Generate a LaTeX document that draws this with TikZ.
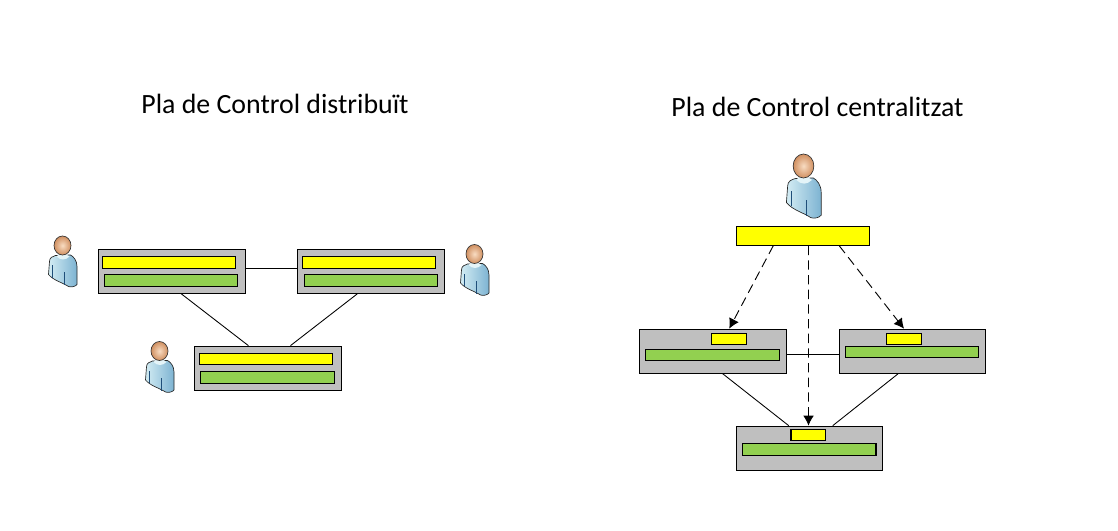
\documentclass[tikz,border=0pt]{standalone}
\usepackage{fontspec}
\setmainfont{Carlito}
\usetikzlibrary{arrows.meta,positioning}
\definecolor{BoxGray}{HTML}{BFBFBF}
\definecolor{CtrlYellow}{HTML}{FFFF00}
\definecolor{DataGreen}{HTML}{92D050}
\definecolor{SkinA}{HTML}{F8DCC2}
\definecolor{SkinB}{HTML}{D08F60}
\definecolor{ShirtA}{HTML}{D3ECF3}
\definecolor{ShirtB}{HTML}{7DB3D2}
\definecolor{ShirtLine}{HTML}{1F4E79}
\tikzset{
  swbox/.style={draw,fill=BoxGray,line width=0.8pt,inner sep=0pt,minimum width=110.4pt,minimum height=33pt},
  swnarrow/.style={swbox,minimum width=109.6pt},
  ctrlbar/.style={draw,fill=CtrlYellow,line width=0.8pt,inner sep=0pt,minimum width=100pt,minimum height=8.6pt},
  ctrlsmall/.style={ctrlbar,minimum width=26pt},
  ctrlbig/.style={ctrlbar,minimum height=14.2pt},
  databar/.style={draw,fill=DataGreen,line width=0.8pt,inner sep=0pt,minimum width=100pt,minimum height=8.6pt},
  link/.style={line width=0.65pt},
  ctrllink/.style={line width=0.7pt,dash pattern=on 7pt off 4pt,-{Latex[length=7.5pt,width=8pt]}},
  title/.style={font=\fontsize{20.9}{23}\selectfont},
  person/.pic={
    \shade[left color=ShirtA,right color=ShirtB,draw=black!85,line width=0.5pt]
      (-7,10) .. controls (-10,11) and (-13,12) .. (-13,16) -- (-14,29)
      .. controls (-9,35) and (0,37) .. (6,41) .. controls (9,42) and (13,41) .. (14.5,39)
      -- (14.5,21) .. controls (14.5,15) and (11,11) .. (8,9.5) -- cycle;
    \fill[ShirtA!60!white] (-6,11) .. controls (-2,15) and (3,15) .. (7,11) -- (2,8) -- (-3,8) -- cycle;
    \draw[ShirtLine,line width=0.45pt] (-9.8,20) -- (-9.8,32);
    \draw[ShirtLine,line width=0.45pt] (2.2,27) -- (2.2,39.5);
    \shade[inner color=SkinA,outer color=SkinB,draw=black!80,line width=0.5pt]
      (0,0) ellipse [x radius=8.5,y radius=9.5];
  }
}
\begin{document}
\begin{tikzpicture}[x=0.75pt,y=-0.75pt]
  \useasboundingbox (0,0) rectangle (1118,531);
  \node[title] (titledist) at (275,104) {Pla de Control distribuït};
  \node[title] (titlecent) at (817.5,107) {Pla de Control centralitzat};

  % distribuit
  \node[swbox] (swa) at (171.7,271.2) {};
  \node[swbox] (swb) at (370.9,271.2) {};
  \node[swbox] (swc) at (267.9,368.2) {};
  \node[ctrlbar] (ctrla) at (169.2,262.7) {};
  \node[databar] (dataa) at (171.2,280.7) {};
  \node[ctrlbar] (ctrlb) at (368.9,262.7) {};
  \node[databar] (datab) at (370.9,280.7) {};
  \node[ctrlbar] (ctrlc) at (265.9,359.2) {};
  \node[databar] (datac) at (267.4,377.4) {};
  \draw[link] ([yshift=2.2pt]swa.east) -- ([yshift=2.2pt]swb.west);
  \draw[link] ([xshift=7.1pt]swa.south) -- ([xshift=-14.6pt]swc.north);
  \draw[link] ([xshift=-10.1pt]swb.south) -- ([xshift=16.9pt]swc.north);
  \pic at (62.5,245.5) {person};
  \pic at (474.5,254) {person};
  \pic at (159.5,351) {person};

  % centralitzat
  \node[ctrlbig] (master) at (802.9,235.7) {};
  \node[swbox] (swd) at (712.7,351.2) {};
  \node[swnarrow] (swe) at (912.4,351.2) {};
  \node[swnarrow] (swf) at (809.4,448.2) {};
  \node[ctrlsmall] (ctrld) at (729,339) {};
  \node[databar] (datad) at (712.4,355.2) {};
  \node[ctrlsmall] (ctrle) at (904,339) {};
  \node[databar] (datae) at (911.9,352.2) {};
  \node[ctrlsmall] (ctrlf) at (808.3,435) {};
  \node[databar] (dataf) at (809.3,449.5) {};
  \draw[link] ([yshift=-2.2pt]swd.east) -- ([yshift=-2.2pt]swe.west);
  \draw[link] ([xshift=7.5pt]swd.south) -- ([xshift=-15.5pt]swf.north);
  \draw[link] ([xshift=-10.7pt]swe.south) -- ([xshift=17.5pt]swf.north);
  \draw[ctrllink] ([xshift=-22.2pt]master.south) -- ([xshift=12.4pt]swd.north);
  \draw[ctrllink] ([xshift=4.2pt]master.south) -- ([xshift=-0.67pt]swf.north);
  \draw[ctrllink] ([xshift=27.2pt]master.south) -- ([xshift=-6.3pt]swe.north);
  \pic[xscale=1.22,yscale=1.26] at (803.5,166) {person};
\end{tikzpicture}
\end{document}
